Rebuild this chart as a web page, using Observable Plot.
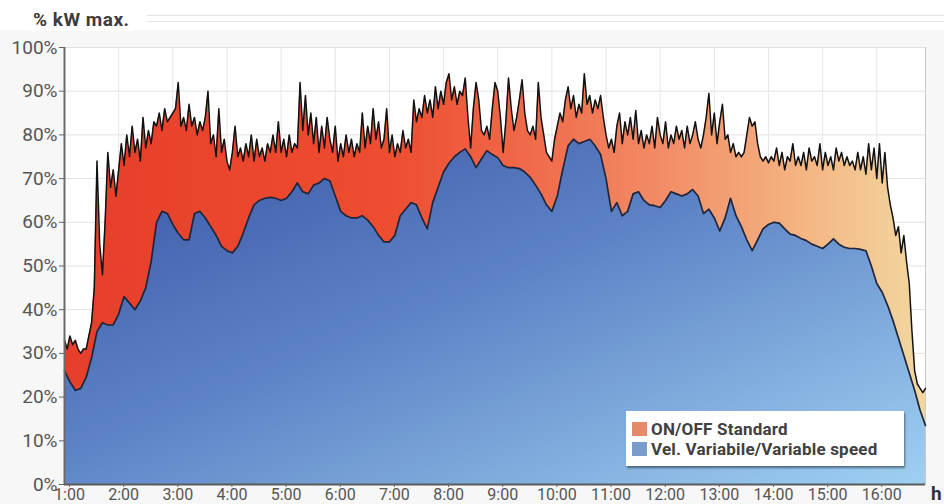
<!DOCTYPE html>
<html>
<head>
<meta charset="utf-8">
<script src="https://cdn.jsdelivr.net/npm/d3@7"></script>
<script src="https://cdn.jsdelivr.net/npm/@observablehq/plot@0.6"></script>
<style>
  body { margin: 0; background: #fff; }
  #wrap { position: relative; width: 944px; height: 504px; overflow: hidden; background: #fff;
          font-family: Roboto, "DejaVu Sans", sans-serif; }
  #bg { position: absolute; left: 0; top: 30px; width: 944px; height: 474px; background: #f7f7f7; }
  #chart { position: absolute; left: 0; top: 0; }
  #title { position: absolute; left: 31px; top: 8px; font-weight: 700; font-size: 19px; letter-spacing: 0.5px;
           color: #3c3c3c; background: #fff; padding: 0 4px 0 2px; }
  .rule { position: absolute; left: 147px; width: 797px; height: 1px; background: #e3e3e3; }
  #legend { position: absolute; left: 626px; top: 411px; width: 278px; height: 55px; background: #fff;
            box-shadow: 1px 2px 2px rgba(0,0,0,0.45); }
  .item { position: absolute; left: 6px; height: 18px; display: flex; align-items: center;
          font-weight: 700; font-size: 17px; letter-spacing: 0.2px; color: #404040; white-space: nowrap; }
  .sw { display: inline-block; width: 15px; height: 14px; margin-right: 4px; }
  #hunit { position: absolute; left: 931px; top: 482px; font-weight: 700; font-size: 19px; color: #333; }
</style>
</head>
<body>
<div id="wrap">
  <div id="bg"></div>
  <div id="chart"></div>
  <div class="rule" style="top:15px"></div>
  <div class="rule" style="top:21px"></div>
  <div id="title">% kW max.</div>
  <div id="legend"></div>
  <div id="hunit">h</div>
</div>
<script>
// ---- data ----
const hourTicks = [1,2,3,4,5,6,7,8,9,10,11,12,13,14,15,16];
const hourLabels = ["1:00","2:00","3:00","4:00","5:00","6:00","7:00","8:00","9:00","10:00","11:00","12:00","13:00","14:00","15:00","16:00"];
const pctTicks = [0,10,20,30,40,50,60,70,80,90,100];
const pctLabels = ["0%","10%","20%","30%","40%","50%","60%","70%","80%","90%","100%"];
const seriesNames = ["ON/OFF Standard", "Vel. Variabile/Variable speed"];
const seriesColors = ["#e4896a", "#7b9bcb"];

// ON/OFF Standard, sampled every 0.05 h from 1:00
const onoffStart = 1, onoffStep = 0.05;
const onoff = [
  33,31,34,32,33,31,30,31,31,34,37,45,74,55,48,60,76,68,72,66,
  72,78,73,80,75,82,76,79,74,84,77,81,78,83,82,85,81,86,83,84,
  85,86,92,82,84,81,87,82,84,80,83,81,84,90,78,80,75,86,76,79,
  74,72,76,82,75,77,74,78,75,80,74,79,75,77,74,78,76,80,76,83,
  76,79,75,80,76,78,77,92,81,89,80,85,78,84,76,82,77,84,79,76,
  82,74,78,75,80,76,79,75,78,76,85,77,82,78,86,79,83,77,79,86,
  76,80,75,78,76,81,77,79,76,88,83,86,84,89,85,88,84,91,86,90,
  87,92,94,88,91,87,90,89,93,84,77,86,92,88,81,80,82,79,86,92,
  90,84,76,83,93,86,81,84,88,92.6,85,81,80,82,79,92,84,80,76,75,
  74,79,82,85,83,88,91,86,89,84,87,85,94,87,89,85,88,86,89,84,
  80,77,79,76,82,85,78,83,80,84,79,85.6,78,81,77,80,78,82,77,84,
  80,78,83,77,80,78,82,79,81,77,82,78,80,83,79,77,80,84,89.5,80,
  85,78,83,87,79,80,76,78,75,76,75,76,80,84,82,83,78,75,74,75,
  73.6,75,74,77,73,76,72,75,74,78,73,75,73,76,72,77,74,75,73,78,
  72,76,73,75,72,77,74,76,73,75,73,74,72,76,72,75,71,78,72,77,
  70,78,69,76,68,64,61,57,59,53,57,51,46,35,26,23,22,21,22
];

// Variable speed, sampled every 0.1 h from 1:00
const varStart = 1, varStep = 0.1;
const varSpeed = [
  26,23.5,21.5,22,24.5,29,35,37,36.5,36.5,
  39,43,41.5,40,42,45,51,60,62.5,62,
  59.5,57.5,56,56,62,62.5,61,59,57,54.5,
  53.5,53,54.5,57.5,61,64,65,65.5,65.7,65.5,
  65,65.5,67,69,67,66.5,68.5,69,70,69.5,
  66,62.5,61.5,61,61,61.5,60.5,59,57,55.5,
  55.5,57,61.5,63,64.5,64,61,58.5,64.5,68,
  71.5,73.5,75,76,76.8,75,72.5,74.5,76.4,75.5,
  74.8,73,72.5,72.5,72.3,71.5,70.3,68.5,66.5,64,
  62.5,66,72,77.5,79,78,78.5,79,77.5,75.5,
  70,62.5,64.5,61.5,62.5,66.5,67,65,64,63.8,
  63.4,65,67,66.5,66,66.5,67.5,66,62,63,
  61,58,61,65.5,61.5,59,56,53.5,56,58.5,
  59.5,60,59.8,58.5,57.3,57,56.3,55.8,55,54.5,
  54,55,56.2,55,54.3,54,54,53.8,53.5,50,
  46,44,41,37.5,33.5,29.5,25.5,21.5,17,13.5
];

const onoffData = onoff.map((v, i) => ({h: onoffStart + i * onoffStep, v}));
const varData = varSpeed.map((v, i) => ({h: varStart + i * varStep, v}));

const fontAxis = "Roboto, 'DejaVu Sans', sans-serif";

const svg = Plot.plot({
  width: 944,
  height: 504,
  marginLeft: 64,
  marginRight: 19,
  marginTop: 47,
  marginBottom: 20,
  style: {background: "transparent", fontFamily: fontAxis, color: "#555"},
  x: {domain: [1, 16.9], label: null},
  y: {domain: [0, 100], label: null},
  marks: [
    Plot.frame({fill: "#fff", stroke: "#c9c9c9"}),
    Plot.gridY(pctTicks, {stroke: "#e2e2e2", strokeOpacity: 1}),
    Plot.gridX(hourTicks, {stroke: "#e6e6e6", strokeOpacity: 1}),
    Plot.areaY(onoffData, {x: "h", y: "v", fill: "url(#onoffGrad)"}),
    Plot.areaY(varData, {x: "h", y: "v", fill: "url(#varGrad)"}),
    Plot.lineY(varData, {x: "h", y: "v", stroke: "#20253a", strokeWidth: 1.7}),
    Plot.lineY(onoffData, {x: "h", y: "v", stroke: "#111", strokeWidth: 1.5}),
    Plot.ruleX([1], {stroke: "#6a6a6a", strokeWidth: 2}),
    Plot.ruleY([0], {stroke: "#5a5a5a", strokeWidth: 2}),
    Plot.axisY({
      ticks: pctTicks, label: null,
      tickFormat: d => pctLabels[pctTicks.indexOf(d)],
      tickSize: 5, tickPadding: 2, fontSize: 19, stroke: "#666", fill: "#555"
    }),
    Plot.axisX({
      ticks: hourTicks, label: null,
      tickFormat: d => hourLabels[hourTicks.indexOf(d)],
      tickSize: 3, tickPadding: 1, fontSize: 16, dx: 5, stroke: "#666", fill: "#555"
    })
  ]
});

d3.select(svg).insert("defs", ":first-child").html(`
  <linearGradient id="onoffGrad" x1="0" y1="0" x2="1" y2="0">
    <stop offset="0" stop-color="#e63e2a"/>
    <stop offset="0.38" stop-color="#ee4d30"/>
    <stop offset="0.56" stop-color="#f06e4d"/>
    <stop offset="0.72" stop-color="#f2926b"/>
    <stop offset="0.86" stop-color="#f4b583"/>
    <stop offset="1" stop-color="#f2d8a0"/>
  </linearGradient>
  <linearGradient id="varGrad" x1="0" y1="0" x2="1" y2="1">
    <stop offset="0" stop-color="#3a54a5"/>
    <stop offset="0.45" stop-color="#5c82c5"/>
    <stop offset="1" stop-color="#9fd0f2"/>
  </linearGradient>`);

document.getElementById("chart").appendChild(svg);

// legend
const legend = document.getElementById("legend");
seriesNames.forEach((name, i) => {
  const item = document.createElement("div");
  item.className = "item";
  item.style.top = (9 + i * 20) + "px";
  const sw = document.createElement("span");
  sw.className = "sw";
  sw.style.background = seriesColors[i];
  item.appendChild(sw);
  item.appendChild(document.createTextNode(name));
  legend.appendChild(item);
});
</script>
</body>
</html>
